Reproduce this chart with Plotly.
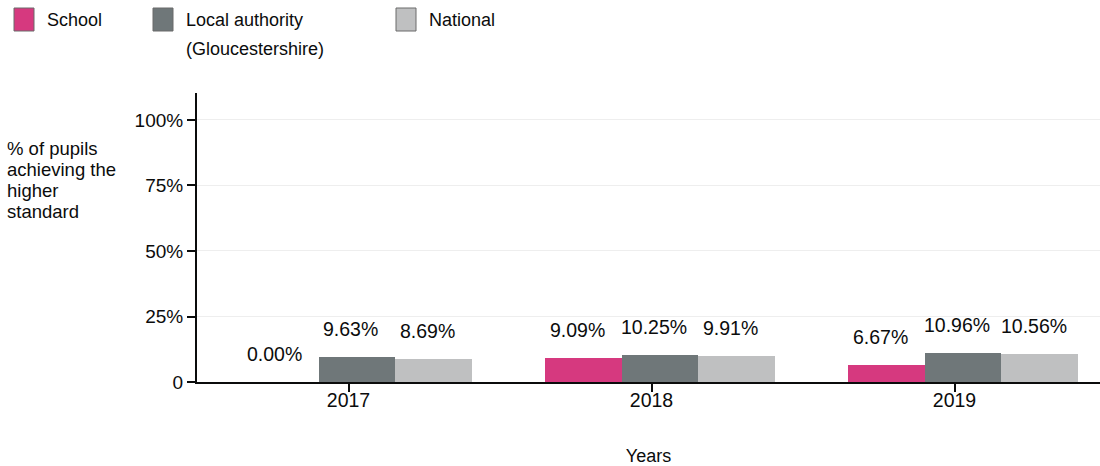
import plotly.graph_objects as go

years = [2017, 2018, 2019]
series_names = ["School", "Local authority (Gloucestershire)", "National"]
school = [0.00, 9.09, 6.67]
local_authority = [9.63, 10.25, 10.96]
national = [8.69, 9.91, 10.56]
y_tick_vals = [0, 25, 50, 75, 100]
y_tick_text = ["0", "25%", "50%", "75%", "100%"]

colors = ["#d6397f", "#6f7779", "#bfc0c1"]
offsets = [-0.226, 0.028, 0.282]
bar_w = 0.254
FONT = "Liberation Sans, Arial, sans-serif"
TXT = "#0b0c0c"

fig = go.Figure()
annotations = []
for name, vals, col, off in zip(series_names, [school, local_authority, national], colors, offsets):
    xs = [y + off for y in years]
    fig.add_trace(go.Bar(x=xs, y=vals, width=bar_w, name=name,
                         marker=dict(color=col, line=dict(width=0)),
                         showlegend=False, hoverinfo="y"))
    for x, v in zip(xs, vals):
        annotations.append(dict(x=x, y=v, xref="x", yref="y", text=f"{v:.2f}%",
                                showarrow=False, yanchor="middle", yshift=28, xshift=-6,
                                font=dict(size=19.5, color=TXT, family=FONT)))

# y-axis title (left, multi-line)
ytitle_lines = ["% of pupils", "achieving the", "higher", "standard"]
for i, line in enumerate(ytitle_lines):
    annotations.append(dict(x=0, y=1, xref="paper", yref="paper", xanchor="left", yanchor="middle",
                            xshift=-192, yshift=-(148 - 93) - 21 * i, text=line, showarrow=False,
                            font=dict(size=18.5, color=TXT, family=FONT), align="left"))

# custom legend
shapes = []
legend_items = [(14, ["School"]), (153, ["Local authority", "(Gloucestershire)"]), (396, ["National"])]
for (lx, lines), col in zip(legend_items, colors):
    shapes.append(dict(type="rect", xref="paper", yref="paper",
                       x0=(lx - 197) / 903, x1=(lx + 20 - 197) / 903,
                       y0=(382 - 31) / 289, y1=(382 - 8) / 289,
                       fillcolor=col, line=dict(color="#6b6b6b", width=1)))
    for j, line in enumerate(lines):
        annotations.append(dict(x=(lx + 31 - 197) / 903, y=(382 - 20 - 29 * j) / 289,
                                xref="paper", yref="paper", xanchor="left", yanchor="middle",
                                text=line, showarrow=False,
                                font=dict(size=18, color=TXT, family=FONT)))

fig.update_layout(
    width=1100, height=466,
    margin=dict(l=197, r=0, t=93, b=84),
    paper_bgcolor="white", plot_bgcolor="white",
    font=dict(family=FONT, size=18, color=TXT),
    annotations=annotations, shapes=shapes,
    xaxis=dict(range=[2016.5, 2016.5 + 903 / 303], tickvals=years, ticktext=[str(y) for y in years],
               ticks="outside", ticklen=8, tickwidth=2, tickcolor="#0b0c0c",
               showline=True, linecolor="#0b0c0c", linewidth=2, showgrid=False, zeroline=False,
               ticklabelstandoff=-8,
               title=dict(text="Years", standoff=40, font=dict(size=18, color=TXT, family=FONT)),
               tickfont=dict(size=19.5, color=TXT, family=FONT), fixedrange=True),
    yaxis=dict(range=[0, 110.3], tickvals=y_tick_vals, ticktext=y_tick_text,
               ticks="outside", ticklen=8, tickwidth=2, tickcolor="#0b0c0c",
               showline=True, linecolor="#0b0c0c", linewidth=2,
               showgrid=True, gridcolor="#eeeeee", gridwidth=1, zeroline=False,
               tickfont=dict(size=19, color=TXT, family=FONT), fixedrange=True),
    bargap=0, hovermode="closest",
)

fig.write_html("out.html")
